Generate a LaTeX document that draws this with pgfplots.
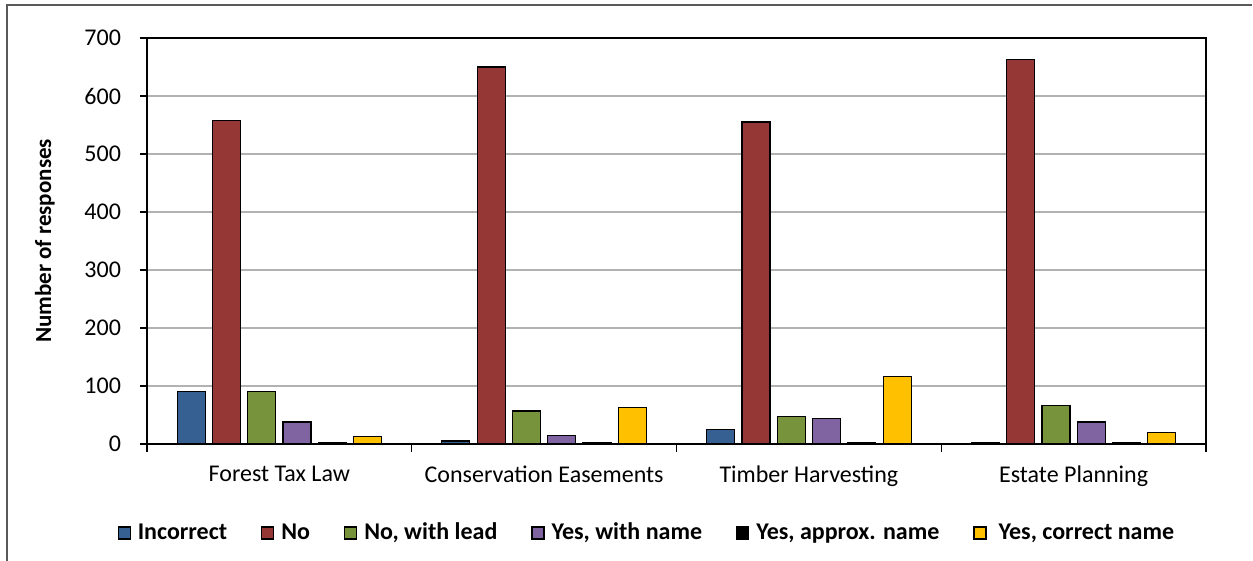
\documentclass[border=0pt]{standalone}
\usepackage{fontspec}
\setmainfont{Carlito}
\usepackage{pgfplots}
\pgfplotsset{compat=1.18}

\definecolor{cIncorrect}{HTML}{376092}
\definecolor{cNo}{HTML}{953735}
\definecolor{cLead}{HTML}{77933C}
\definecolor{cName}{HTML}{8064A2}
\definecolor{cApprox}{HTML}{000000}
\definecolor{cCorrect}{HTML}{FFC000}
\definecolor{frameGray}{HTML}{595959}

\begin{document}
\begin{tikzpicture}
% page extent
\useasboundingbox (-73.5pt,-58.5pt) rectangle (553pt,222pt);
% chart-area border
\draw[frameGray, line width=1pt] (-70pt,-58.5pt) -- (-70pt,219.5pt) -- (552.5pt,219.5pt);

\begin{axis}[
  scale only axis,
  width=529.5pt, height=203pt,
  xmin=-0.5, xmax=3.5,
  ymin=0, ymax=700,
  ytick={0,100,...,700},
  xtick={0,1,2,3},
  xticklabels={Forest Tax Law, Conservation Easements, Timber Harvesting, Estate Planning},
  minor xtick={-0.5,0.5,1.5,2.5,3.5},
  major x tick style={draw=none},
  xtick pos=lower, ytick pos=left,
  tick align=outside,
  major tick length=3.5pt,
  minor tick length=4pt,
  tick style={black, line width=0.6pt},
  axis line style={black, line width=0.6pt},
  ymajorgrids,
  grid style={gray!60, line width=0.6pt},
  /pgf/number format/assume math mode=true,
  tick label style={font=\fontsize{12}{14}\selectfont},
  yticklabel style={xshift=-6pt},
  xticklabel style={yshift=-4pt},
  ylabel={Number of responses},
  ylabel style={font=\fontsize{11.5}{13}\selectfont\bfseries, at={(-0.0965,0.5)}, anchor=center},
  ybar=3.65pt,
  bar width=14pt,
  every axis plot/.append style={draw=black, line width=0.6pt},
  legend columns=-1,
  legend style={
    at={(0.473,-0.219)}, anchor=center,
    draw=none, fill=none,
    font=\fontsize{12}{14}\selectfont\bfseries,
    /tikz/every even column/.append style={column sep=15pt},
    /tikz/every odd column/.append style={column sep=1.5pt},
  },
  legend image code/.code={
    \draw[#1, line width=0.6pt] (0pt,-3pt) rectangle (6pt,3pt);
  },
]
\addplot[fill=cIncorrect] coordinates {(0,90) (1,5) (2,25) (3,2)};
\addplot[fill=cNo] coordinates {(0,558) (1,650) (2,555) (3,663)};
\addplot[fill=cLead] coordinates {(0,91) (1,57) (2,48) (3,67)};
\addplot[fill=cName] coordinates {(0,38) (1,15) (2,44) (3,38)};
\addplot[fill=cApprox] coordinates {(0,2) (1,2) (2,3) (3,2)};
\addplot[fill=cCorrect] coordinates {(0,13) (1,63) (2,116) (3,20)};
\legend{Incorrect, No, {No, with lead}, {Yes, with name}, {Yes, approx. name}, {\hspace{2.5pt}Yes, correct name}}
\end{axis}
\end{tikzpicture}
\end{document}
